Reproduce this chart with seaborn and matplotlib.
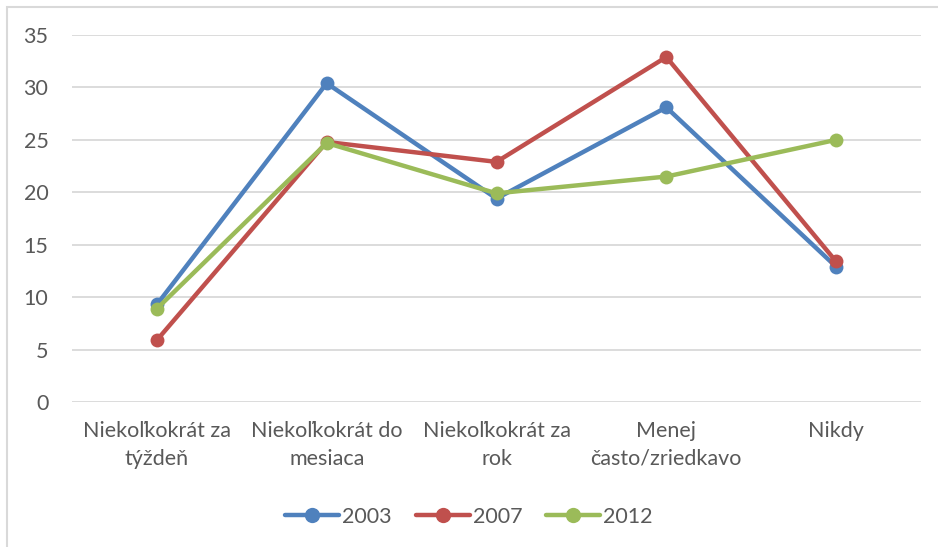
import pandas as pd
import seaborn as sns
import matplotlib.pyplot as plt
from matplotlib.patches import Rectangle

categories = [
    "Niekoľkokrát za\ntýždeň",
    "Niekoľkokrát do\nmesiaca",
    "Niekoľkokrát za\nrok",
    "Menej\nčasto/zriedkavo",
    "Nikdy",
]
years = ["2003", "2007", "2012"]
vals_2003 = [9.3, 30.4, 19.4, 28.1, 12.9]
vals_2007 = [5.9, 24.8, 22.9, 32.9, 13.4]
vals_2012 = [8.9, 24.7, 19.9, 21.5, 25.0]
colors = ["#4f81bd", "#c0504d", "#9bbb59"]
yticks = [0, 5, 10, 15, 20, 25, 30, 35]

rows = []
for year, vals in zip(years, [vals_2003, vals_2007, vals_2012]):
    for i, v in enumerate(vals):
        rows.append({"idx": i, "value": v, "year": year})
df = pd.DataFrame(rows)

sns.set_theme(style="white")
plt.rcParams["font.family"] = ["Lato", "DejaVu Sans"]
text_color = "#595959"
fs = 15.5

fig = plt.figure(figsize=(9.38, 5.47), dpi=100)
ax = fig.add_axes([72 / 938, 1 - 402 / 547, (921 - 72) / 938, (402 - 35) / 547])

# chart frame
fig.patches.append(Rectangle((7 / 938, -0.05), 1.1, 1 - 7 / 547 + 0.05,
                             transform=fig.transFigure, fill=False,
                             edgecolor="#d9d9d9", linewidth=1.5))

sns.lineplot(data=df, x="idx", y="value", hue="year", palette=colors,
             marker="o", markersize=10, markeredgewidth=0, linewidth=3.2,
             ax=ax, legend=False)

ax.set_ylim(0, 35)
ax.set_xlim(-0.5, 4.5)
ax.set_yticks(yticks)
ax.set_xticks(range(len(categories)))
ax.set_xticklabels(categories, linespacing=1.45)
ax.yaxis.grid(True, color="#d9d9d9", linewidth=1.3)
ax.set_axisbelow(True)
for sp in ax.spines.values():
    sp.set_visible(False)
ax.tick_params(axis="y", length=0, pad=17, labelsize=fs, labelcolor=text_color)
ax.tick_params(axis="x", length=0, pad=14, labelsize=fs, labelcolor=text_color)
ax.set_xlabel("")
ax.set_ylabel("")

handles = [plt.Line2D([], [], color=c, marker="o", markersize=11,
                      markeredgewidth=0, linewidth=3.2) for c in colors]
fig.legend(handles, years, loc="center", bbox_to_anchor=(0.5, 1 - 517 / 547),
           ncol=3, frameon=False, fontsize=fs, labelcolor=text_color,
           handlelength=2.5, handletextpad=0.15, columnspacing=1.1)

fig.savefig("out.png", dpi=100)
